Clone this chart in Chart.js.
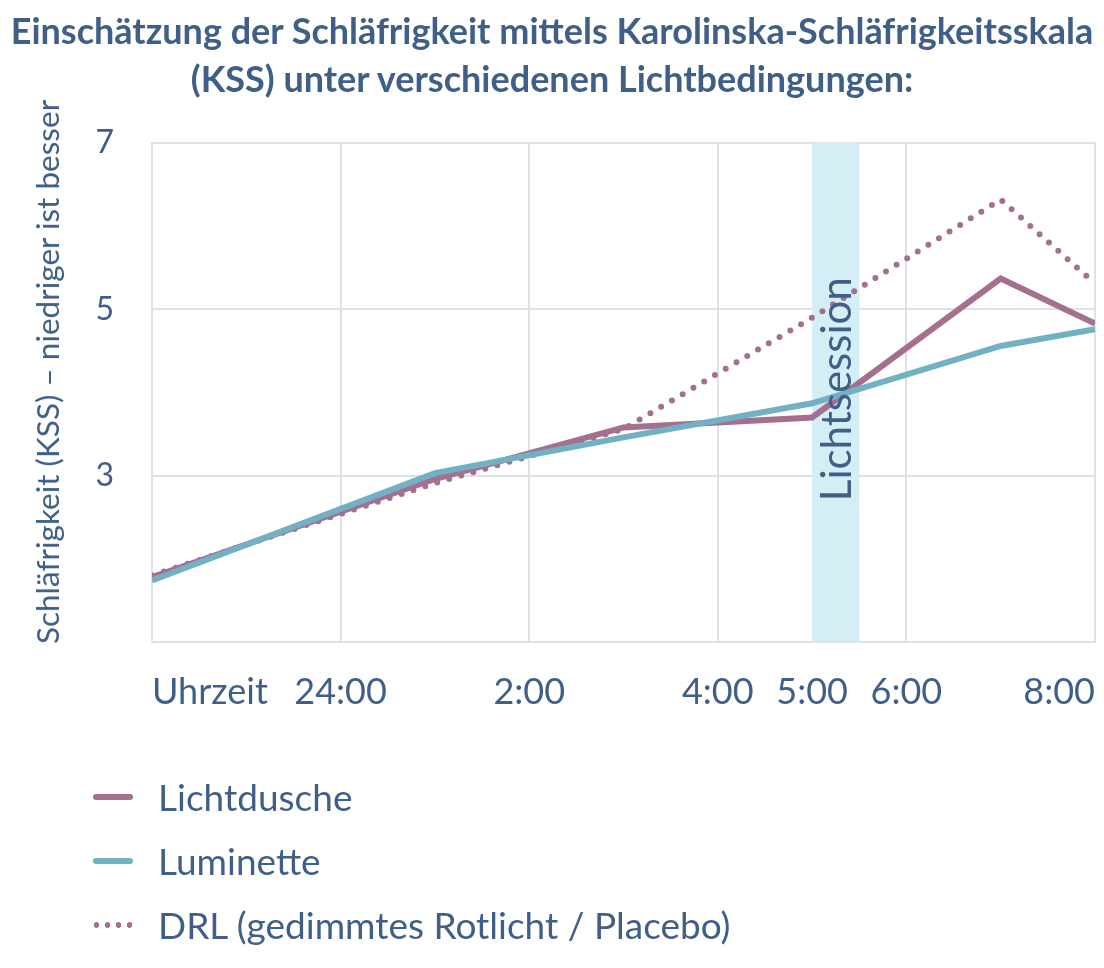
<!DOCTYPE html>
<html>
<head>
<meta charset="utf-8">
<script src="https://cdn.jsdelivr.net/npm/chart.js@4.4.1/dist/chart.umd.min.js"></script>
<style>
  html, body { margin: 0; padding: 0; background: #ffffff; }
  #wrap { position: relative; width: 1104px; height: 968px; overflow: hidden; font-family: Lato, sans-serif; color: #3f5f88; }
  #c { position: absolute; left: 0; top: 0; }
  #title { position: absolute; left: 0; top: 6px; width: 1104px; text-align: center; font-weight: 700; font-size: 36px; line-height: 48px; color: #3f5f88; white-space: nowrap; }
  #ytitle { position: absolute; left: 47px; top: 372px; transform: translate(-50%, -50%) rotate(-90deg); white-space: nowrap; font-size: 31.5px; color: #3f5f88; }
  .leg { position: absolute; left: 0; height: 40px; width: 900px; }
  .leg .sw { position: absolute; left: 90px; top: 17px; width: 44px; height: 6px; }
  .leg .tx { position: absolute; left: 158px; top: 0; font-size: 37px; line-height: 40px; white-space: nowrap; color: #3f5f88; }
</style>
</head>
<body>
<div id="wrap">
  <canvas id="c" width="1104" height="968"></canvas>
  <div id="title">Einschätzung der Schläfrigkeit mittels Karolinska-Schläfrigkeitsskala<br>(KSS) unter verschiedenen Lichtbedingungen:</div>
  <div id="ytitle">Schläfrigkeit (KSS) – niedriger ist besser</div>
  <div id="legend"></div>
</div>
<script>
// ---- data ----
const seriesNames = ["Lichtdusche", "Luminette", "DRL (gedimmtes Rotlicht / Placebo)"];
// time in hours (22 = 22:00, 24 = 24:00, 32 = 8:00)
const lichtduscheX = [22, 25, 27, 29, 31, 32];
const lichtduscheY = [1.78, 2.96, 3.58, 3.70, 5.37, 4.83];
const luminetteX = [22, 25, 27, 29, 31, 32];
const luminetteY = [1.74, 3.03, 3.46, 3.87, 4.56, 4.76];
const drlX = [22, 25, 27, 29, 31, 32];
const drlY = [1.80, 2.91, 3.56, 4.90, 6.32, 5.31];
const xTickValues = [22, 24, 26, 28, 29, 30, 32];
const xTickLabels = ["Uhrzeit", "24:00", "2:00", "4:00", "5:00", "6:00", "8:00"];
const yTickValues = [1, 3, 5, 7];
const yTickLabels = ["", "3", "5", "7"];
const sessionStart = 29, sessionEnd = 29.5;
const sessionLabel = "Lichtsession";

const colPurple = "#a5708f";
const colCyan = "#72b1c4";
const colText = "#3f5f88";
const colGrid = "#dde2ea";
const colBand = "#d3eef5";

function pts(xs, ys) { return xs.map((x, i) => ({ x: x, y: ys[i] })); }

// legend (HTML)
const legendRows = [
  { name: seriesNames[0], color: colPurple, dotted: false },
  { name: seriesNames[1], color: colCyan, dotted: false },
  { name: seriesNames[2], color: colPurple, dotted: true }
];
const legendEl = document.getElementById("legend");
legendRows.forEach((r, i) => {
  const row = document.createElement("div");
  row.className = "leg";
  row.style.top = (777 + i * 64) + "px";
  const sw = document.createElement("div");
  sw.className = "sw";
  if (r.dotted) {
    sw.style.background = "radial-gradient(circle, " + r.color + " 2.6px, transparent 3px) 0 0 / 11px 6px repeat-x";
    sw.style.left = "91px";
    sw.style.width = "44px";
  } else {
    sw.style.background = r.color;
    sw.style.borderRadius = "3px";
    sw.style.left = "93px";
    sw.style.width = "40px";
  }
  const tx = document.createElement("div");
  tx.className = "tx";
  tx.textContent = r.name;
  row.appendChild(sw);
  row.appendChild(tx);
  legendEl.appendChild(row);
});

const bandPlugin = {
  id: "band",
  beforeDatasetsDraw(chart) {
    const { ctx, chartArea, scales } = chart;
    const x0 = scales.x.getPixelForValue(sessionStart);
    const x1 = scales.x.getPixelForValue(sessionEnd);
    ctx.save();
    ctx.fillStyle = colBand;
    ctx.fillRect(x0, chartArea.top, x1 - x0, chartArea.bottom - chartArea.top);
    ctx.restore();
  },
  afterDatasetsDraw(chart) {
    const { ctx, scales } = chart;
    const x0 = scales.x.getPixelForValue(sessionStart);
    const x1 = scales.x.getPixelForValue(sessionEnd);
    const cx = (x0 + x1) / 2;
    const cy = scales.y.getPixelForValue(4.04);
    ctx.save();
    ctx.translate(cx + 15, cy);
    ctx.rotate(-Math.PI / 2);
    ctx.font = "42px Lato";
    ctx.fillStyle = colText;
    ctx.textAlign = "center";
    ctx.textBaseline = "alphabetic";
    ctx.fillText(sessionLabel, 0, 0);
    ctx.restore();
  }
};

new Chart(document.getElementById("c"), {
  type: "line",
  data: {
    datasets: [
      {
        label: seriesNames[0], data: pts(lichtduscheX, lichtduscheY),
        borderColor: colPurple, borderWidth: 6, pointRadius: 0, tension: 0,
        borderJoinStyle: "miter", borderCapStyle: "butt", order: 2
      },
      {
        label: seriesNames[1], data: pts(luminetteX, luminetteY),
        borderColor: colCyan, borderWidth: 6, pointRadius: 0, tension: 0,
        borderJoinStyle: "miter", borderCapStyle: "butt", order: 1
      },
      {
        label: seriesNames[2], data: pts(drlX, drlY),
        borderColor: colPurple, borderWidth: 6, pointRadius: 0, tension: 0,
        borderDash: [0, 12.5], borderCapStyle: "round", order: 3
      }
    ]
  },
  options: {
    responsive: false,
    animation: false,
    devicePixelRatio: 1,
    layout: { padding: { left: 0, right: 9, top: 143, bottom: 968 - 642 - 90 } },
    plugins: {
      legend: { display: false },
      title: { display: false },
      tooltip: { enabled: false }
    },
    scales: {
      x: {
        type: "linear", min: 22, max: 32,
        afterBuildTicks(scale) { scale.ticks = xTickValues.map(v => ({ value: v })); },
        afterFit(scale) { scale.height = 90; scale.paddingLeft = 0; scale.paddingRight = 0; },
        grid: {
          drawTicks: false, lineWidth: 2,
          color: (c) => (c.tick && c.tick.value === 29) ? "rgba(0,0,0,0)" : colGrid
        },
        border: { display: true, color: colGrid, width: 2 },
        ticks: {
          autoSkip: false, maxRotation: 0, align: "inner", padding: 29,
          color: colText, font: { family: "Lato", size: 36 },
          callback: (v) => { const i = xTickValues.indexOf(v); return i >= 0 ? xTickLabels[i] : ""; }
        }
      },
      y: {
        type: "linear", min: 1, max: 7,
        afterBuildTicks(scale) { scale.ticks = yTickValues.map(v => ({ value: v })); },
        afterFit(scale) { scale.width = 152; scale.paddingTop = 0; scale.paddingBottom = 0; },
        grid: { drawTicks: false, lineWidth: 2, color: colGrid },
        border: { display: true, color: colGrid, width: 2 },
        ticks: {
          padding: 38, color: colText, font: { family: "Lato", size: 32 },
          callback: (v) => { const i = yTickValues.indexOf(v); return i >= 0 ? yTickLabels[i] : ""; }
        }
      }
    }
  },
  plugins: [bandPlugin]
});
</script>
</body>
</html>
